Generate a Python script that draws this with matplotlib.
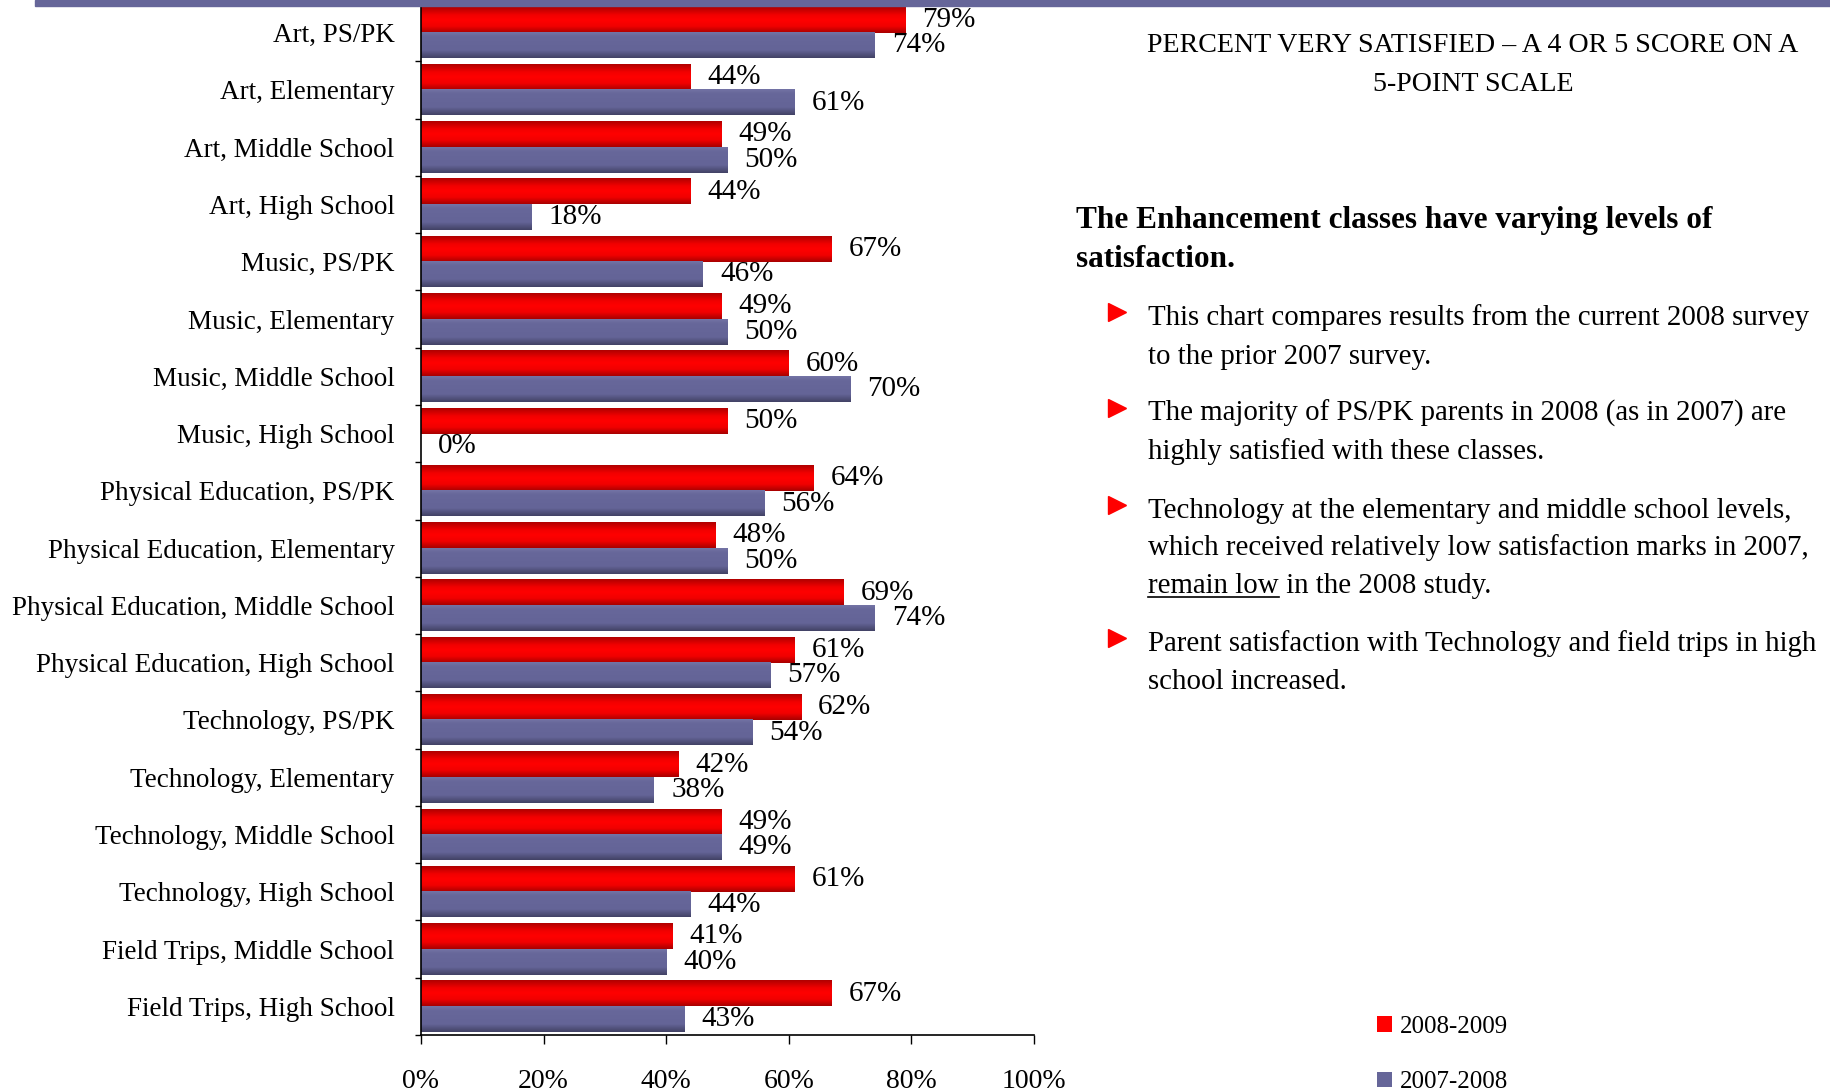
import numpy as np
import matplotlib
matplotlib.use('Agg')
import matplotlib.pyplot as plt
from matplotlib.colors import LinearSegmentedColormap
from matplotlib.patches import Rectangle

# Chart data
categories = ['Art, PS/PK', 'Art, Elementary', 'Art, Middle School', 'Art, High School',
              'Music, PS/PK', 'Music, Elementary', 'Music, Middle School', 'Music, High School',
              'Physical Education, PS/PK', 'Physical Education, Elementary',
              'Physical Education, Middle School', 'Physical Education, High School',
              'Technology, PS/PK', 'Technology, Elementary', 'Technology, Middle School',
              'Technology, High School', 'Field Trips, Middle School', 'Field Trips, High School']
pct_2008 = [79, 44, 49, 44, 67, 49, 60, 50, 64, 48, 69, 61, 62, 42, 49, 61, 41, 67]
pct_2007 = [74, 61, 50, 18, 46, 50, 70, 0, 56, 50, 74, 57, 54, 38, 49, 44, 40, 43]
series_names = ['2008-2009', '2007-2008']
x_ticks = [0, 20, 40, 60, 80, 100]

title_lines = ['PERCENT VERY SATISFIED \u2013 A 4 OR 5 SCORE ON A', '5-POINT SCALE']
heading_lines = ['The Enhancement classes have varying levels of', 'satisfaction.']
bullets = [
    ['This chart compares results from the current 2008 survey', 'to the prior 2007 survey.'],
    ['The majority of PS/PK parents in 2008 (as in 2007) are', 'highly satisfied with these classes.'],
    ['Technology at the elementary and middle school levels,',
     'which received relatively low satisfaction marks in 2007,', None],
    ['Parent satisfaction with Technology and field trips in high', 'school increased.'],
]

plt.rcParams['font.family'] = ['Liberation Serif', 'DejaVu Serif']
plt.rcParams['font.size'] = 19.5

fig = plt.figure(figsize=(18.3, 10.91), dpi=100)
ax = fig.add_axes([0.23005, 0.05133, 0.33497, 0.945])

y = np.arange(len(categories))
h = 0.445
red_bars = ax.barh(y - h / 2, pct_2008, height=h, color='#FF0000', label=series_names[0])
blue_bars = ax.barh(y + h / 2, pct_2007, height=h, color='#666699', label=series_names[1])

# shaded look on the bars
red_cmap = LinearSegmentedColormap.from_list('r', [(0, '#B00000'), (0.3, '#F20000'), (0.5, '#FF0000'),
                                                   (0.75, '#F00000'), (1, '#A80000')])
blue_cmap = LinearSegmentedColormap.from_list('b', [(0, '#7474A6'), (0.15, '#67679A'), (0.7, '#646497'),
                                                    (1, '#424265')])
grad = np.linspace(0, 1, 64).reshape(-1, 1)
for bars, cm in [(red_bars, red_cmap), (blue_bars, blue_cmap)]:
    for p in bars:
        w = p.get_width()
        if w <= 0:
            continue
        x0, y0 = p.get_xy()
        ph = p.get_height()
        ax.imshow(grad, cmap=cm, aspect='auto', origin='upper', interpolation='bilinear',
                  extent=(x0, x0 + w, y0 + ph, y0), zorder=p.get_zorder() + 0.1)

for i in range(len(categories)):
    ax.text(pct_2008[i] + 2.8, y[i] - h / 2, f'{pct_2008[i]}%', va='center', ha='left', fontsize=21)
    ax.text(pct_2007[i] + 2.8, y[i] + h / 2, f'{pct_2007[i]}%', va='center', ha='left', fontsize=21)

ax.set_xlim(0, 100)
ax.set_ylim(len(categories) - 0.5, -0.5)
ax.set_xticks(x_ticks)
ax.set_xticklabels([f'{t}%' for t in x_ticks], fontsize=20)
ax.tick_params(axis='x', length=6.5, width=1, pad=18)
ax.set_yticks(y)
ax.set_yticklabels(categories)
ax.tick_params(axis='y', which='major', length=0, pad=19)
ax.set_yticks(np.arange(-0.5, len(categories), 1), minor=True)
ax.tick_params(axis='y', which='minor', length=4, width=1)
for s in ['top', 'right']:
    ax.spines[s].set_visible(False)
ax.spines['left'].set_linewidth(1.2)
ax.spines['bottom'].set_linewidth(1.2)

# overlay in pixel units for the side text
ov = fig.add_axes([0, 0, 1, 1], facecolor='none')
ov.set_xlim(0, 1830)
ov.set_ylim(1091, 0)
ov.axis('off')
ov.add_patch(Rectangle((35, 0), 1795, 6, color='#666699'))

for yy, line in zip([52, 91], title_lines):
    ov.text(1473, yy, line, ha='center', va='baseline', fontsize=20.2)
for yy, line in zip([228, 267], heading_lines):
    ov.text(1076, yy, line, ha='left', va='baseline', fontweight='bold', fontsize=22.5)

bullet_rows = [[325, 364], [421, 459], [518, 555, 593], [651, 689]]
body_size = 20.8
renderer = fig.canvas.get_renderer()
for rows, lines in zip(bullet_rows, bullets):
    ov.plot(1117, rows[0] - 13, marker='>', color='#FF0000', markersize=13)
    for yy, line in zip(rows, lines):
        if line is None:
            t = ov.text(1148, yy, 'remain low', ha='left', va='baseline', fontsize=body_size)
            bb = t.get_window_extent(renderer)
            (x0, _), (x1, _) = ov.transData.inverted().transform([[bb.x0, bb.y0], [bb.x1, bb.y1]])
            ov.plot([x0, x1], [yy + 4, yy + 4], color='black', lw=1.2)
            ov.text(x1, yy, ' in the 2008 study.', ha='left', va='baseline', fontsize=body_size)
        else:
            ov.text(1148, yy, line, ha='left', va='baseline', fontsize=body_size)

fig.legend(handles=[red_bars, blue_bars], loc='upper left', bbox_to_anchor=(0.7459, 0.0806),
           frameon=False, borderpad=0, handlelength=0.6, handleheight=0.6, handletextpad=0.3,
           labelspacing=1.35, fontsize=18)

fig.savefig('out.png', dpi=100)
